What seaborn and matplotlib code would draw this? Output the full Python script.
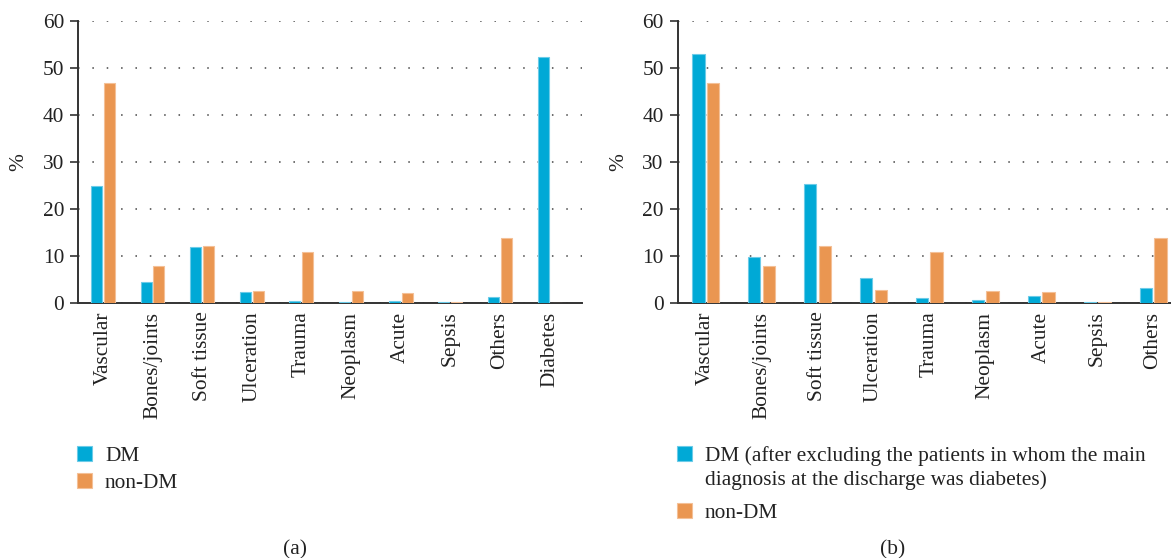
import pandas as pd
import numpy as np
import matplotlib
matplotlib.use('Agg')
import matplotlib.pyplot as plt
import seaborn as sns

# DATA
cats_a = ['Vascular', 'Bones/joints', 'Soft tissue', 'Ulceration', 'Trauma',
          'Neoplasm', 'Acute', 'Sepsis', 'Others', 'Diabetes']
dm_a = [25.0, 4.5, 11.9, 2.3, 0.5, 0.3, 0.5, 0.3, 1.3, 52.4]
nondm_a = [46.8, 7.9, 12.2, 2.6, 10.8, 2.6, 2.1, 0.3, 13.8, 0.0]

cats_b = ['Vascular', 'Bones/joints', 'Soft tissue', 'Ulceration', 'Trauma',
          'Neoplasm', 'Acute', 'Sepsis', 'Others']
dm_b = [53.0, 9.8, 25.3, 5.3, 1.1, 0.7, 1.6, 0.3, 3.2]
nondm_b = [46.8, 7.9, 12.2, 2.8, 10.8, 2.6, 2.3, 0.3, 13.8]

yticks = [0, 10, 20, 30, 40, 50, 60]
label_dm_a = 'DM'
label_dm_b = 'DM (after excluding the patients in whom the main'
label_dm_b2 = 'diagnosis at the discharge was diabetes)'
label_non = 'non-DM'

BLUE = '#00A9D6'
ORANGE = '#EA9651'
EDGES = {'#00a9d6': '#6CCBE8', '#ea9651': '#F4C097'}

sns.set_theme(style='white')
plt.rcParams['font.family'] = ['Liberation Serif', 'DejaVu Serif']
FS = 15.4
TXT = '#222222'

fig = plt.figure(figsize=(11.71, 5.58), dpi=100)
ax_a = fig.add_axes([0.0666, 0.4565, 0.4304, 0.5059])
ax_b = fig.add_axes([0.5787, 0.4565, 0.4213, 0.5059])


def draw_panel(ax, cats, dm, nondm, dm_label, xmax, legend_y, spacing):
    df = pd.DataFrame({
        'cat': cats * 2,
        'val': dm + nondm,
        'grp': [dm_label] * len(cats) + [label_non] * len(cats),
    })
    sns.barplot(data=df, x='cat', y='val', hue='grp', order=cats,
                palette=[BLUE, ORANGE], saturation=1, width=0.52, gap=0.15,
                ax=ax, legend=True)
    # light outline like the original
    for p in ax.patches:
        fc = matplotlib.colors.to_hex(p.get_facecolor())
        p.set_edgecolor(EDGES.get(fc, fc))
        p.set_linewidth(0.8)
        p.set_zorder(3)
    handles, labels = ax.get_legend_handles_labels()
    ax.get_legend().remove()

    ax.set_ylim(0, 60)
    ax.set_xlim(-0.5, xmax)
    ax.set_yticks(yticks)
    ax.set_yticklabels([str(t) for t in yticks], fontsize=FS, color=TXT)
    ax.set_xticks(range(len(cats)))
    ax.set_xticklabels(cats, rotation=90, fontsize=FS, color=TXT)
    ax.tick_params(axis='y', length=6, width=1.2, color='#333333', pad=4, left=True)
    ax.tick_params(axis='x', length=0, pad=6)
    ax.set_xlabel('')
    ax.set_ylabel('%', fontsize=FS, color=TXT, labelpad=10)
    ax.grid(axis='y', color='#444444', linestyle=(0, (1, 8.4)), linewidth=1.1)
    ax.set_axisbelow(True)
    for s in ['top', 'right']:
        ax.spines[s].set_visible(False)
    for s in ['left', 'bottom']:
        ax.spines[s].set_color('#333333')
        ax.spines[s].set_linewidth(1.4)

    pos = ax.get_position()
    leg = ax.legend(handles, labels, loc='upper left',
                    bbox_to_anchor=(pos.x0 - 0.008, legend_y),
                    bbox_transform=fig.transFigure, frameon=False,
                    fontsize=FS, handlelength=0.7, handleheight=0.7,
                    handletextpad=0.6, labelspacing=spacing, borderaxespad=0)
    for t in leg.get_texts():
        t.set_color(TXT)
    return leg


draw_panel(ax_a, cats_a, dm_a, nondm_a, label_dm_a, 9.65, 0.2165, 0.32)
leg_b = draw_panel(ax_b, cats_b, dm_b, nondm_b, label_dm_b, 8.32, 0.2165, 1.75)

# second line of the long legend label in (b)
fig.canvas.draw()
bb = leg_b.get_texts()[0].get_window_extent()
fig.text(bb.x0 / fig.bbox.width, 1 - 480.5 / 558, label_dm_b2,
         ha='left', va='center', fontsize=FS, color=TXT)

fig.text(295 / 1171, 1 - 550 / 558, '(a)', ha='center', va='center',
         fontsize=FS, color=TXT)
fig.text(893 / 1171, 1 - 550 / 558, '(b)', ha='center', va='center',
         fontsize=FS, color=TXT)

fig.savefig('out.png', dpi=100)
